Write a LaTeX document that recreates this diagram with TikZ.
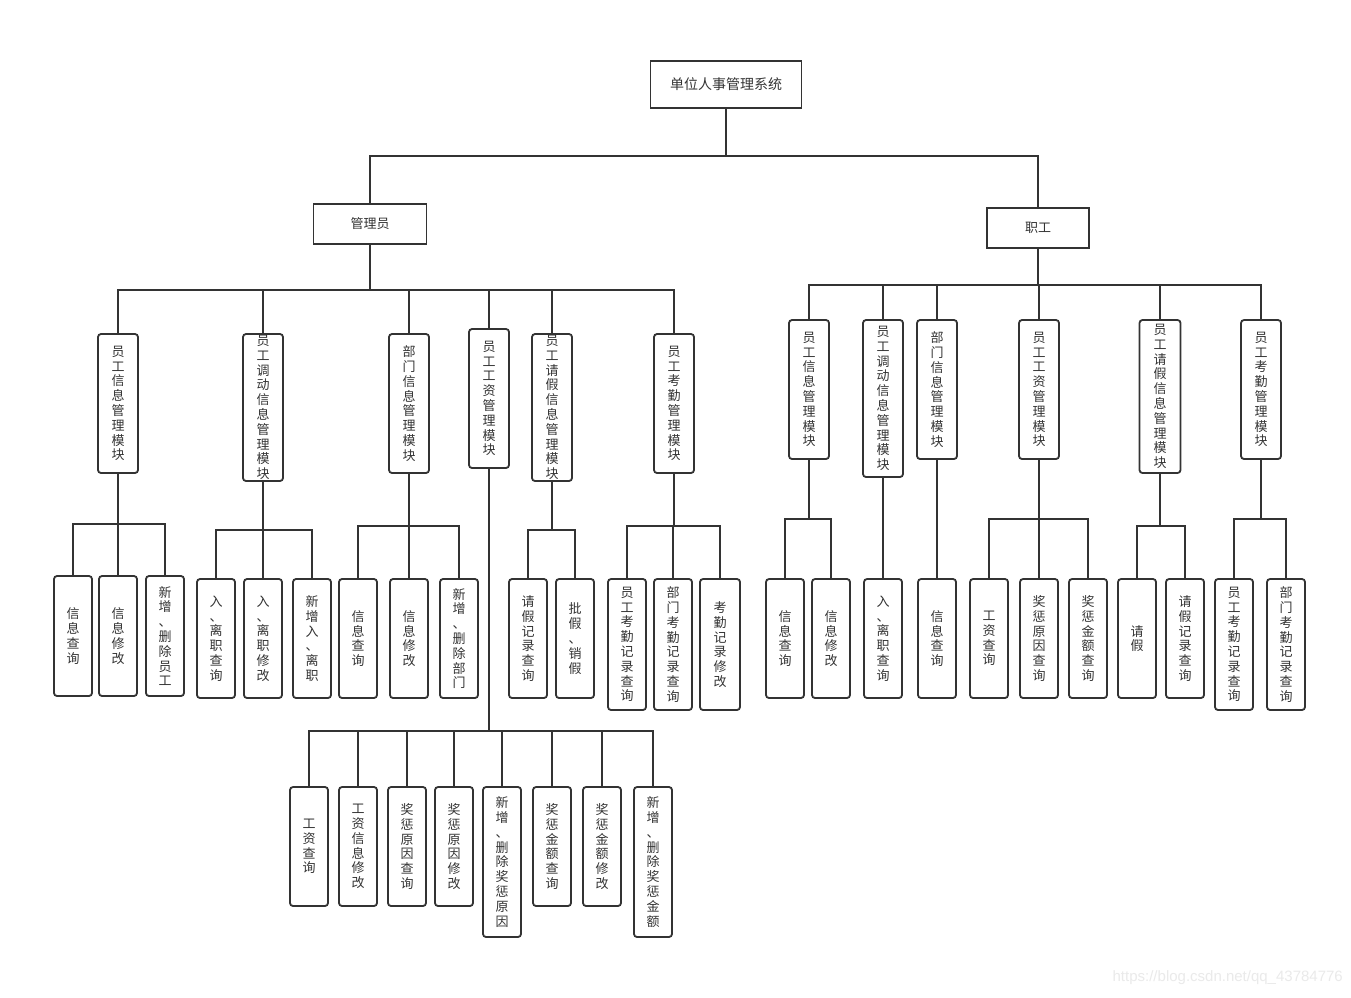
\documentclass[tikz,border=0pt]{standalone}
\usepackage{fontspec}
\newfontfamily\cjk{Noto Sans CJK SC}
\newfontfamily\wmfont{Liberation Sans}
\definecolor{ink}{HTML}{333333}
\definecolor{wmc}{HTML}{EAEAEA}
\newcommand\mybox[6]{%
  \node[boxr, minimum width=#4, minimum height=#5] (#1) at (#2,#3) {};
  \node[vtxt] (#1-t) at (#1.center) {#6};}
\newcommand\conn[3]{\draw[ln] (#1.south) |- (#2.north |- 0,#3) -- (#2.north);}
\begin{document}
\begin{tikzpicture}[x=1pt,y=-1pt,
  ln/.style={draw=ink, line width=1.8pt},
  hbox/.style={draw=ink, line width=1.8pt, inner sep=0pt, text=ink},
  boxr/.style={draw=ink, line width=1.8pt, rounded corners=3pt, inner sep=0pt},
  vtxt/.style={align=center, inner sep=0pt, font=\cjk\fontsize{13}{14.8}\selectfont, text=ink}]
\fill[white] (0,0) rectangle (1351,997);
\useasboundingbox (0,0) rectangle (1351,997);

% top levels
\node[hbox, minimum width=151, minimum height=47, font=\cjk\fontsize{14}{16}\selectfont] (T) at (726,84.5) {单位人事管理系统};
\node[hbox, minimum width=113, minimum height=40, font=\cjk\fontsize{13}{15}\selectfont] (A) at (370,224) {管理员};
\node[hbox, minimum width=102, minimum height=40, font=\cjk\fontsize{13}{15}\selectfont] (S) at (1038,228) {职工};
\conn{T}{A}{156}
\conn{T}{S}{156}

% admin modules
\mybox{a1}{118}{403.5}{40}{139}{员\\工\\信\\息\\管\\理\\模\\块}
\mybox{a2}{263}{407.5}{40}{147}{员\\工\\调\\动\\信\\息\\管\\理\\模\\块}
\mybox{a3}{409}{403.5}{40}{139}{部\\门\\信\\息\\管\\理\\模\\块}
\mybox{a4}{489}{398.5}{40}{139}{员\\工\\工\\资\\管\\理\\模\\块}
\mybox{a5}{552}{407.5}{40}{147}{员\\工\\请\\假\\信\\息\\管\\理\\模\\块}
\mybox{a6}{674}{403.5}{40}{139}{员\\工\\考\\勤\\管\\理\\模\\块}
\foreach \n in {a1,a2,a3,a4,a5,a6} {\conn{A}{\n}{290}}

% admin leaves
\mybox{a11}{73}{636}{38}{120}{信\\息\\查\\询}
\mybox{a12}{118}{636}{38}{120}{信\\息\\修\\改}
\mybox{a13}{165}{636}{38}{120}{新\\增\\、\\删\\除\\员\\工}
\foreach \n in {a11,a12,a13} {\conn{a1}{\n}{524}}

\mybox{a21}{216}{638.5}{38}{119}{入\\、\\离\\职\\查\\询}
\mybox{a22}{263}{638.5}{38}{119}{入\\、\\离\\职\\修\\改}
\mybox{a23}{312}{638.5}{38}{119}{新\\增\\入\\、\\离\\职}
\foreach \n in {a21,a22,a23} {\conn{a2}{\n}{530}}

\mybox{a31}{358}{638.5}{38}{119}{信\\息\\查\\询}
\mybox{a32}{409}{638.5}{38}{119}{信\\息\\修\\改}
\mybox{a33}{459}{638.5}{38}{119}{新\\增\\、\\删\\除\\部\\门}
\foreach \n in {a31,a32,a33} {\conn{a3}{\n}{526}}

\mybox{a41}{309}{846.5}{38}{119}{工\\资\\查\\询}
\mybox{a42}{358}{846.5}{38}{119}{工\\资\\信\\息\\修\\改}
\mybox{a43}{407}{846.5}{38}{119}{奖\\惩\\原\\因\\查\\询}
\mybox{a44}{454}{846.5}{38}{119}{奖\\惩\\原\\因\\修\\改}
\mybox{a45}{502}{862}{38}{150}{新\\增\\、\\删\\除\\奖\\惩\\原\\因}
\mybox{a46}{552}{846.5}{38}{119}{奖\\惩\\金\\额\\查\\询}
\mybox{a47}{602}{846.5}{38}{119}{奖\\惩\\金\\额\\修\\改}
\mybox{a48}{653}{862}{38}{150}{新\\增\\、\\删\\除\\奖\\惩\\金\\额}
\foreach \n in {a41,a42,a43,a44,a45,a46,a47,a48} {\conn{a4}{\n}{731}}

\mybox{a51}{528}{638.5}{38}{119}{请\\假\\记\\录\\查\\询}
\mybox{a52}{575}{638.5}{38}{119}{批\\假\\、\\销\\假}
\foreach \n in {a51,a52} {\conn{a5}{\n}{530}}

\mybox{a61}{627}{644.5}{38}{131}{员\\工\\考\\勤\\记\\录\\查\\询}
\mybox{a62}{673}{644.5}{38}{131}{部\\门\\考\\勤\\记\\录\\查\\询}
\mybox{a63}{720}{644.5}{40}{131}{考\\勤\\记\\录\\修\\改}
\foreach \n in {a61,a62,a63} {\conn{a6}{\n}{526}}

% staff modules
\mybox{s1}{809}{389.5}{40}{139}{员\\工\\信\\息\\管\\理\\模\\块}
\mybox{s2}{883}{398.5}{40}{157}{员\\工\\调\\动\\信\\息\\管\\理\\模\\块}
\mybox{s3}{937}{389.5}{40}{139}{部\\门\\信\\息\\管\\理\\模\\块}
\mybox{s4}{1039}{389.5}{40}{139}{员\\工\\工\\资\\管\\理\\模\\块}
\mybox{s5}{1160}{396.5}{41}{153}{员\\工\\请\\假\\信\\息\\管\\理\\模\\块}
\mybox{s6}{1261}{389.5}{40}{139}{员\\工\\考\\勤\\管\\理\\模\\块}
\foreach \n in {s1,s2,s3,s4,s5,s6} {\conn{S}{\n}{285}}

% staff leaves
\mybox{s11}{785}{638.5}{38}{119}{信\\息\\查\\询}
\mybox{s12}{831}{638.5}{38}{119}{信\\息\\修\\改}
\foreach \n in {s11,s12} {\conn{s1}{\n}{519}}

\mybox{s21}{883}{638.5}{38}{119}{入\\、\\离\\职\\查\\询}
\conn{s2}{s21}{519}

\mybox{s31}{937}{638.5}{38}{119}{信\\息\\查\\询}
\conn{s3}{s31}{519}

\mybox{s41}{989}{638.5}{38}{119}{工\\资\\查\\询}
\mybox{s42}{1039}{638.5}{38}{119}{奖\\惩\\原\\因\\查\\询}
\mybox{s43}{1088}{638.5}{38}{119}{奖\\惩\\金\\额\\查\\询}
\foreach \n in {s41,s42,s43} {\conn{s4}{\n}{519}}

\mybox{s51}{1137}{638.5}{38}{119}{请\\假}
\mybox{s52}{1185}{638.5}{38}{119}{请\\假\\记\\录\\查\\询}
\foreach \n in {s51,s52} {\conn{s5}{\n}{526}}

\mybox{s61}{1234}{644.5}{38}{131}{员\\工\\考\\勤\\记\\录\\查\\询}
\mybox{s62}{1286}{644.5}{38}{131}{部\\门\\考\\勤\\记\\录\\查\\询}
\foreach \n in {s61,s62} {\conn{s6}{\n}{519}}

% watermark
\node[font=\wmfont\fontsize{15}{15}\selectfont, text=wmc, anchor=east, inner sep=0pt] (wm) at (1343,978) {https://blog.csdn.net/qq\_43784776};
\end{tikzpicture}
\end{document}
